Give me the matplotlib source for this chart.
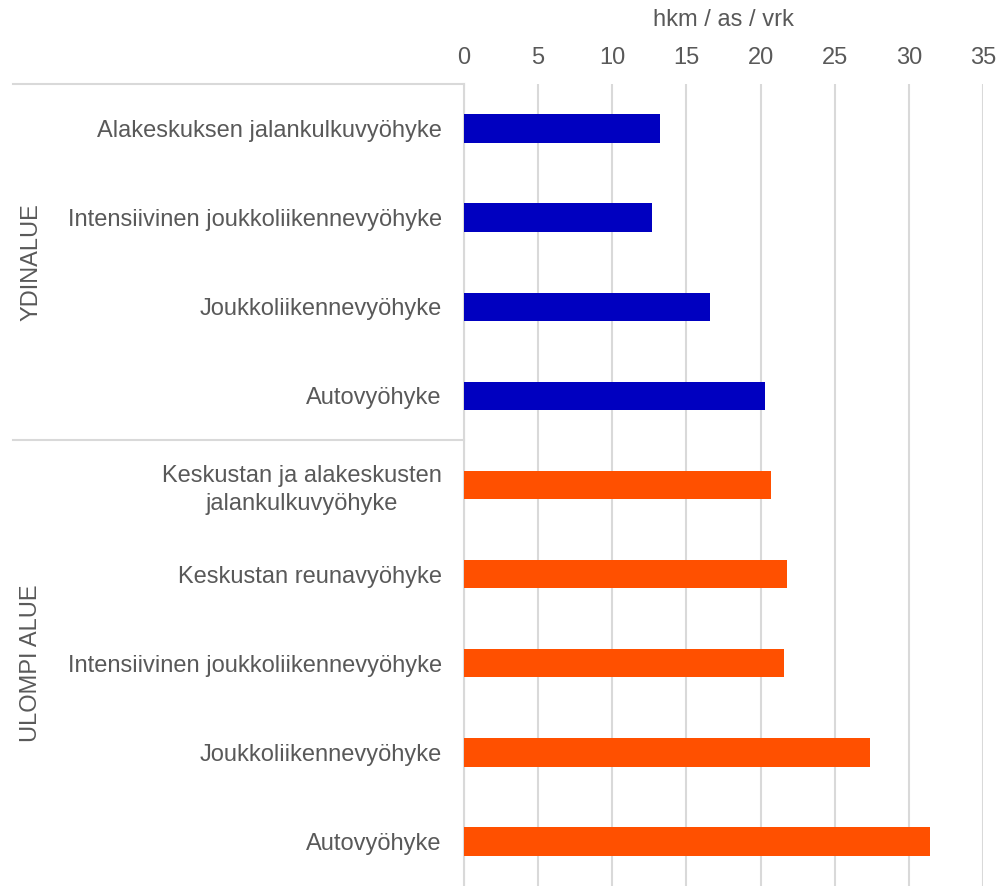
import matplotlib.pyplot as plt
from matplotlib.transforms import blended_transform_factory

plt.rcParams['font.family'] = ['Liberation Sans', 'DejaVu Sans']

# Kilometres per resident per day by zone
categories = [
    'Alakeskuksen jalankulkuvyöhyke',
    'Intensiivinen joukkoliikennevyöhyke',
    'Joukkoliikennevyöhyke',
    'Autovyöhyke',
    'Keskustan ja alakeskusten\njalankulkuvyöhyke',
    'Keskustan reunavyöhyke',
    'Intensiivinen joukkoliikennevyöhyke',
    'Joukkoliikennevyöhyke',
    'Autovyöhyke',
]
values = [13.2, 12.7, 16.6, 20.3, 20.7, 21.8, 21.6, 27.4, 31.4]
groups = ['YDINALUE'] * 4 + ['ULOMPI ALUE'] * 5
group_names = ['YDINALUE', 'ULOMPI ALUE']
group_colors = {'YDINALUE': '#0000C0', 'ULOMPI ALUE': '#FF5000'}
x_ticks = [0, 5, 10, 15, 20, 25, 30, 35]

text_col = '#595959'
grid_col = '#D9D9D9'
fs = 17

fig = plt.figure(figsize=(10, 8.86), dpi=100)
ax = fig.add_axes([0.464, 0.0, 0.519, (886 - 84) / 886])

ypos = list(range(len(categories)))
colors = [group_colors[g] for g in groups]
ax.barh(ypos, values, height=0.32, color=colors, zorder=3)

ax.set_xlim(0, 35)
ax.set_ylim(len(categories) - 0.5, -0.5)
ax.set_xticks(x_ticks)
ax.xaxis.tick_top()
ax.xaxis.set_label_position('top')
ax.tick_params(axis='x', length=0, pad=11, labelsize=fs, labelcolor=text_col)
ax.set_xlabel('hkm / as / vrk', fontsize=fs, color=text_col, labelpad=15)
ax.grid(axis='x', color=grid_col, linewidth=1.5, zorder=0)

ax.set_yticks(ypos)
ax.set_yticklabels(categories)
for lbl in ax.get_yticklabels():
    lbl.set_multialignment('center')
    lbl.set_linespacing(1.3)
ax.tick_params(axis='y', length=0, pad=16, labelsize=fs, labelcolor=text_col)

for side in ['top', 'right', 'bottom']:
    ax.spines[side].set_visible(False)
ax.spines['left'].set_color(grid_col)
ax.spines['left'].set_linewidth(1.5)

# group separators and rotated group names on the left
trans = blended_transform_factory(fig.transFigure, ax.transData)
start = 0
for name in group_names:
    n = groups.count(name)
    end = start + n
    ax.plot([0.013, 0.464], [start - 0.5, start - 0.5], transform=trans,
            color=grid_col, linewidth=1.5, clip_on=False)
    ax.text(0.031, (start + end - 1) / 2, name, transform=trans, rotation=90,
            ha='center', va='center', fontsize=fs, color=text_col)
    start = end

fig.savefig('out.png', dpi=100)
